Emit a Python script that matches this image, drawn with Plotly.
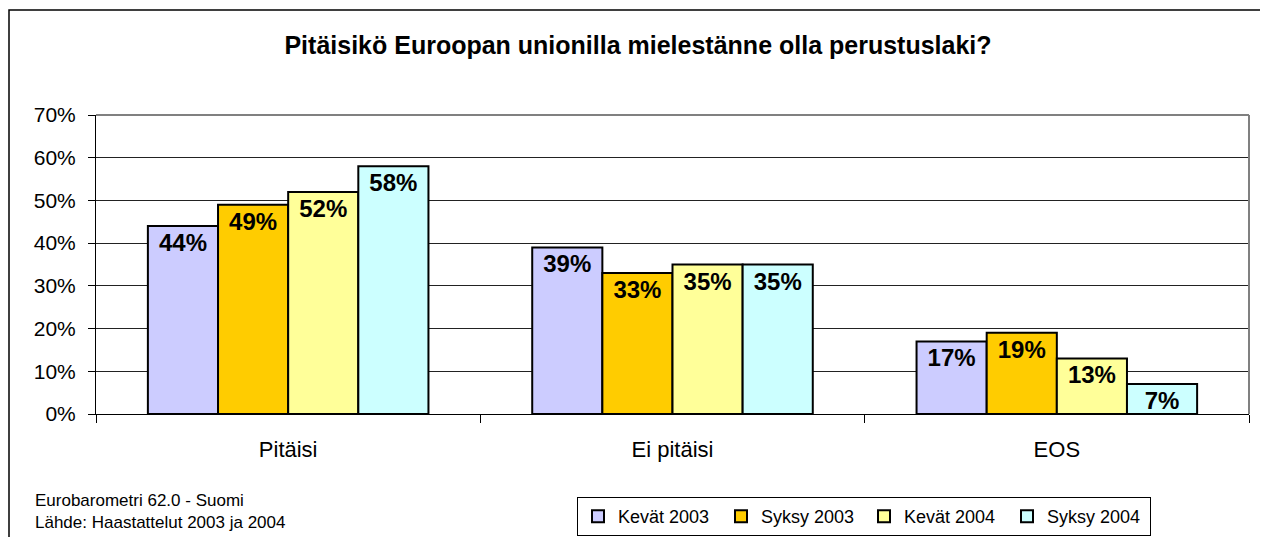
import plotly.graph_objects as go

categories = ['Pitäisi', 'Ei pitäisi', 'EOS']
kevat_2003 = [44, 39, 17]
syksy_2003 = [49, 33, 19]
kevat_2004 = [52, 35, 13]
syksy_2004 = [58, 35, 7]

series = [
    ('Kevät 2003', kevat_2003, '#CCCCFF'),
    ('Syksy 2003', syksy_2003, '#FFCC00'),
    ('Kevät 2004', kevat_2004, '#FFFF99'),
    ('Syksy 2004', syksy_2004, '#CCFFFF'),
]

font = 'Liberation Sans, Arial, sans-serif'

# page body has an 8px margin, so the figure is 1260x529
W, H = 1260, 529
L, R, T, B = 88, 19, 107, 123
PW, PH = W - L - R, H - T - B


def px(x):
    return (x - L) / PW


def py(y):
    return (H - B - y) / PH


fig = go.Figure()
for name, vals, color in series:
    fig.add_trace(go.Bar(
        x=categories,
        y=vals,
        name=name,
        marker={'color': color, 'line': {'color': 'black', 'width': 2}},
        text=[f'{v}%' for v in vals],
        textposition='inside',
        insidetextanchor='end',
        textangle=0,
        constraintext='none',
        textfont={'family': font, 'size': 24, 'color': 'black', 'weight': 'bold'},
    ))

fig.update_layout(
    width=W,
    height=H,
    margin={'l': L, 'r': R, 't': T, 'b': B, 'autoexpand': False},
    paper_bgcolor='white',
    plot_bgcolor='white',
    barmode='group',
    bargap=0.27,
    bargroupgap=0,
    font={'family': font, 'color': 'black'},
    title={
        'text': '<b>Pitäisikö Euroopan unionilla mielestänne olla perustuslaki?</b>',
        'x': 0.5, 'xanchor': 'center',
        'y': 1 - 37 / H, 'yanchor': 'middle',
        'font': {'size': 25, 'family': font},
    },
    xaxis={
        'showline': True, 'linecolor': 'black', 'linewidth': 1,
        'ticks': 'outside', 'tickson': 'boundaries', 'ticklen': 8,
        'tickcolor': 'black',
        'tickfont': {'size': 22},
        'ticklabelstandoff': 16,
        'showgrid': False,
    },
    yaxis={
        'range': [0, 70], 'dtick': 10, 'ticksuffix': '%',
        'showline': True, 'linecolor': 'black', 'linewidth': 1,
        'ticks': 'outside', 'ticklen': 7, 'tickcolor': 'black',
        'tickfont': {'size': 21},
        'ticklabelstandoff': 8,
        'showgrid': True, 'gridcolor': '#222222', 'gridwidth': 1,
        'zeroline': False,
    },
    legend={
        'orientation': 'h',
        'x': px(569), 'xanchor': 'left',
        'y': py(489), 'yanchor': 'top',
        'bordercolor': 'black', 'borderwidth': 1,
        'font': {'size': 18},
        'itemwidth': 30,
        'entrywidth': 98,
        'traceorder': 'normal',
    },
    showlegend=True,
)

# gray plot border (top, right)
fig.add_shape(type='line', xref='paper', yref='paper', x0=0, x1=1, y0=1, y1=1,
              line={'color': '#808080', 'width': 2})
fig.add_shape(type='line', xref='paper', yref='paper', x0=1, x1=1, y0=0, y1=1,
              line={'color': '#808080', 'width': 2})
# outer chart border
fig.add_shape(type='rect', xref='paper', yref='paper',
              x0=px(1), x1=px(1253),
              y0=py(H + 20), y1=py(2),
              line={'color': 'black', 'width': 1.5})

fig.add_annotation(
    xref='paper', yref='paper',
    x=px(25), y=py(481),
    xanchor='left', yanchor='top', align='left',
    text='Eurobarometri 62.0 - Suomi<br>Lähde: Haastattelut 2003 ja 2004',
    showarrow=False, font={'size': 17},
)

fig.write_html('out.html')
